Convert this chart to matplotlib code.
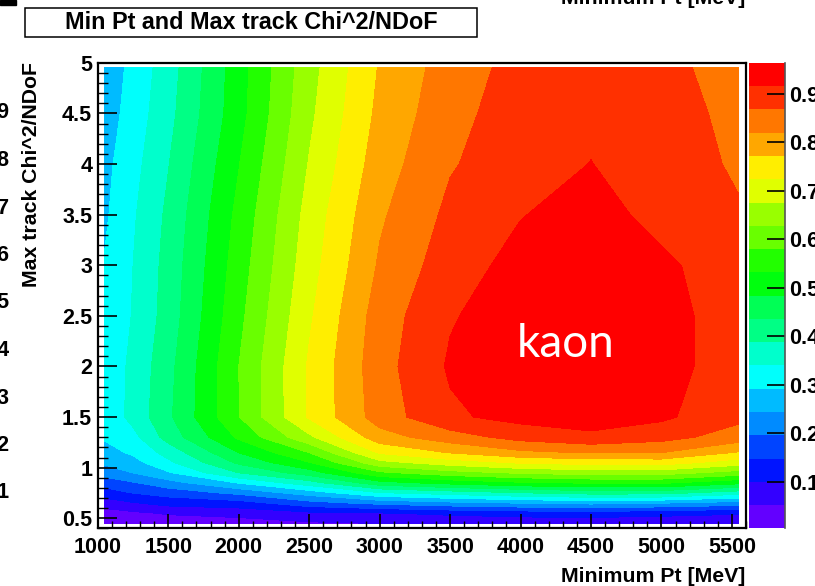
import numpy as np
import matplotlib
matplotlib.use("Agg")
import matplotlib.pyplot as plt
from matplotlib.ticker import MultipleLocator, FormatStrFormatter
from matplotlib.patches import Rectangle

plt.rcParams['font.family'] = ['Liberation Sans', 'DejaVu Sans']

# bin centres of the scan
min_pt = [1050, 1250, 1500, 2000, 2500, 3000, 3500, 4000, 4500, 5000, 5550]
max_chi2 = [0.45, 0.55, 0.65, 0.75, 0.85, 0.95, 1.05, 1.15, 1.3, 1.5,
            2.0, 2.5, 3.0, 3.5, 4.0, 4.5, 4.95]

# kaon efficiency, one row per max_chi2 value
eff = [
    [0.004, 0.015, 0.022, 0.028, 0.045, 0.053, 0.060, 0.065, 0.066, 0.065, 0.060],
    [0.030, 0.043, 0.057, 0.070, 0.090, 0.097, 0.110, 0.120, 0.125, 0.115, 0.105],
    [0.077, 0.096, 0.117, 0.128, 0.178, 0.209, 0.230, 0.245, 0.256, 0.245, 0.223],
    [0.125, 0.149, 0.168, 0.207, 0.266, 0.335, 0.360, 0.385, 0.404, 0.403, 0.360],
    [0.170, 0.192, 0.226, 0.295, 0.368, 0.467, 0.500, 0.525, 0.537, 0.539, 0.497],
    [0.216, 0.245, 0.287, 0.389, 0.461, 0.571, 0.610, 0.635, 0.650, 0.649, 0.608],
    [0.253, 0.275, 0.330, 0.445, 0.530, 0.661, 0.700, 0.730, 0.741, 0.745, 0.700],
    [0.274, 0.300, 0.358, 0.485, 0.581, 0.731, 0.775, 0.810, 0.824, 0.821, 0.768],
    [0.298, 0.325, 0.407, 0.540, 0.665, 0.800, 0.846, 0.885, 0.905, 0.885, 0.845],
    [0.305, 0.355, 0.427, 0.578, 0.730, 0.843, 0.908, 0.932, 0.940, 0.925, 0.880],
    [0.305, 0.352, 0.421, 0.580, 0.730, 0.849, 0.922, 0.945, 0.958, 0.935, 0.890],
    [0.298, 0.343, 0.409, 0.567, 0.717, 0.843, 0.912, 0.942, 0.964, 0.935, 0.890],
    [0.295, 0.340, 0.405, 0.556, 0.704, 0.826, 0.894, 0.932, 0.945, 0.925, 0.890],
    [0.285, 0.334, 0.398, 0.545, 0.694, 0.813, 0.879, 0.914, 0.935, 0.901, 0.872],
    [0.279, 0.324, 0.386, 0.530, 0.679, 0.797, 0.864, 0.895, 0.917, 0.890, 0.862],
    [0.267, 0.313, 0.373, 0.514, 0.666, 0.784, 0.852, 0.893, 0.905, 0.888, 0.855],
    [0.260, 0.306, 0.366, 0.511, 0.658, 0.776, 0.843, 0.885, 0.900, 0.880, 0.850],
]

cbar_ticks = [0.1, 0.2, 0.3, 0.4, 0.5, 0.6, 0.7, 0.8, 0.9]
side_labels = ['0.9', '0.8', '0.7', '0.6', '0.5', '0.4', '0.3', '0.2', '0.1']

# ROOT "pretty" palette, 20 contour colours
palette = ['#6300FF', '#3300FF', '#0014FF', '#0044FF', '#008BFF', '#00BBFF',
           '#00FFFC', '#00FFCC', '#00FF85', '#00FF55', '#00FF0E', '#22FF00',
           '#69FF00', '#99FF00', '#E0FF00', '#FFEE00', '#FFA700', '#FF7700',
           '#FF3000', '#FF0000']

W, H = 815, 586
fig = plt.figure(figsize=(W / 100, H / 100), dpi=100)

x0, x1, y0, y1 = 97.8, 746.0, 62.9, 528.4
ax = fig.add_axes([x0 / W, 1 - y1 / H, (x1 - x0) / W, (y1 - y0) / H])

z = np.array(eff)
levels = np.linspace(z.min(), z.max(), 21)
cf = ax.contourf(min_pt, max_chi2, z, levels=levels, colors=palette)

ax.set_xlim(1000, 5600)
ax.set_ylim(0.4, 5.0)
ax.xaxis.set_major_locator(MultipleLocator(500))
ax.xaxis.set_minor_locator(MultipleLocator(100))
ax.yaxis.set_major_locator(MultipleLocator(0.5))
ax.yaxis.set_minor_locator(MultipleLocator(0.1))
ax.yaxis.set_major_formatter(FormatStrFormatter('%g'))
ax.tick_params(axis='x', which='major', direction='in', length=10, width=1.2,
               top=False, labelsize=15.5, pad=6)
ax.tick_params(axis='x', which='minor', direction='in', length=5, width=1.0, top=False)
ax.tick_params(axis='y', which='major', direction='in', length=14, width=1.2,
               right=False, labelsize=15.5, pad=4)
ax.tick_params(axis='y', which='minor', direction='in', length=7, width=1.0, right=False)
for lab in ax.get_xticklabels() + ax.get_yticklabels():
    lab.set_fontweight('bold')
for sp in ax.spines.values():
    sp.set_linewidth(1.6)

# colour scale
cax = fig.add_axes([749 / W, 1 - y1 / H, 36 / W, (y1 - y0) / H])
cb = fig.colorbar(cf, cax=cax, ticks=cbar_ticks, format='%.1f')
cb.outline.set_visible(False)
cax.tick_params(direction='in', length=13, width=1.2, right=True, left=False,
                labelsize=15.5, pad=3)
for lab in cax.get_yticklabels():
    lab.set_fontweight('bold')
cax.plot([1, 1], [0, 1], transform=cax.transAxes, color='#555555', lw=1.2,
         clip_on=False)

# axis titles
fig.text(32 / W, 1 - 62 / H, 'Max track Chi^2/NDoF', rotation=90, ha='center',
         va='top', fontsize=15.3, fontweight='bold')
fig.text(745 / W, 1 - 576 / H, 'Minimum Pt [MeV]', ha='right', va='center',
         fontsize=15.3, fontweight='bold')

# title box
fig.patches.append(Rectangle((25 / W, 1 - 36.7 / H), 452.3 / W, 28.4 / H,
                             transform=fig.transFigure, facecolor='white',
                             edgecolor='black', lw=1.1))
fig.text(251 / W, 1 - 22.4 / H, 'Min Pt and Max track Chi^2/NDoF', ha='center',
         va='center', fontsize=16.8, fontweight='bold')

# bits of the neighbouring pads cut by the crop
fig.text(745 / W, 1 - 4 / H, 'Minimum Pt [MeV]', ha='right', va='baseline',
         fontsize=15.3, fontweight='bold')
fig.patches.append(Rectangle((0, 1 - 4.5 / H), 16 / W, 4.5 / H,
                             transform=fig.transFigure, color='black'))
for i, s in enumerate(side_labels):
    fig.text(9.5 / W, 1 - (113 + i * 47.5) / H, s, ha='right', va='center',
             fontsize=15.5, fontweight='bold')

ax.text(565.5 / W, 1 - 357 / H, 'kaon', transform=fig.transFigure, ha='center',
        va='baseline', color='white', fontsize=33, family='Lato')

fig.savefig('out.png', dpi=100)
